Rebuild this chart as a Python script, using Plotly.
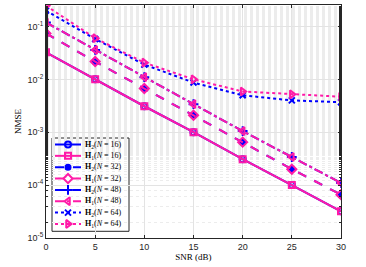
import plotly.graph_objects as go

snr = [0, 5, 10, 15, 20, 25, 30]
h2_n16 = [0.0325, 0.0100, 0.0031, 0.00100, 0.00031, 0.000100, 0.0000320]
h1_n16 = [0.0325, 0.0100, 0.0031, 0.00100, 0.00031, 0.000100, 0.0000320]
h2_n32 = [0.074, 0.0217, 0.0067, 0.0021, 0.00065, 0.000200, 0.0000660]
h1_n32 = [0.074, 0.0217, 0.0067, 0.0021, 0.00065, 0.000200, 0.0000660]
h2_n48 = [0.119, 0.036, 0.011, 0.0034, 0.00105, 0.00034, 0.000110]
h1_n48 = [0.119, 0.036, 0.011, 0.0034, 0.00105, 0.00034, 0.000110]
h2_n64 = [0.200, 0.058, 0.019, 0.0087, 0.0050, 0.0040, 0.0037]
h1_n64 = [0.247, 0.060, 0.0207, 0.0100, 0.0059, 0.0052, 0.0047]

BLUE = "#0000FF"
PINK = "#FF1AA8"

series = [
    ("<b>H</b><sub>2</sub>(<i>N</i> = 16)", h2_n16, BLUE, "solid", "circle-open", 6),
    ("<b>H</b><sub>1</sub>(<i>N</i> = 16)", h1_n16, PINK, "solid", "square-open", 6),
    ("<b>H</b><sub>2</sub>(<i>N</i> = 32)", h2_n32, BLUE, "dash", "circle", 5),
    ("<b>H</b><sub>1</sub>(<i>N</i> = 32)", h1_n32, PINK, "dash", "diamond-open", 7),
    ("<b>H</b><sub>2</sub>(<i>N</i> = 48)", h2_n48, BLUE, "dashdot", "cross-thin-open", 7),
    ("<b>H</b><sub>1</sub>(<i>N</i> = 48)", h1_n48, PINK, "dashdot", "triangle-left-open", 7),
    ("<b>H</b><sub>2</sub>(<i>N</i> = 64)", h2_n64, BLUE, "dot", "x-thin-open", 6),
    ("<b>H</b><sub>1</sub>(<i>N</i> = 64)", h1_n64, PINK, "dot", "triangle-right-open", 7),
]

W, H = 366, 267
L, R, T, B = 46, 25, 5, 29
PW, PH = W - L - R, H - T - B


def px(xp):
    return (xp - L) / PW


def py(yp):
    return (H - B - yp) / PH


fig = go.Figure()
for name, vals, col, dash, sym, ms in series:
    fig.add_trace(go.Scatter(
        x=snr, y=vals, name=name, mode="lines+markers", showlegend=False,
        line=dict(color=col, width=2, dash=dash),
        marker=dict(symbol=sym, size=ms, color=col, line=dict(color=col, width=2)),
    ))

# compact legend drawn on a hidden pixel-unit overlay axis
leg_x0, leg_x1 = 52, 129
leg_y0 = 138
row_h = 11.35
fig.add_shape(type="rect", xref="paper", yref="paper", x0=px(leg_x0), x1=px(leg_x1),
              y0=py(leg_y0), y1=py(leg_y0 + row_h * 8 + 2.5),
              line=dict(color="#262626", width=1), fillcolor="white", layer="between")
for i, (name, vals, col, dash, sym, ms) in enumerate(series):
    yc = leg_y0 + 6.5 + i * row_h
    fig.add_trace(go.Scatter(
        x=[55, 68, 81], y=[yc, yc, yc], mode="lines", xaxis="x2", yaxis="y2",
        showlegend=False, hoverinfo="skip",
        line=dict(color=col, width=2, dash=dash),
    ))
    fig.add_trace(go.Scatter(
        x=[68], y=[yc], mode="markers", xaxis="x2", yaxis="y2",
        showlegend=False, hoverinfo="skip",
        marker=dict(symbol=sym, size=ms, color=col, line=dict(color=col, width=2)),
    ))
    fig.add_annotation(x=px(83), y=py(yc), xref="paper", yref="paper", text=name, showarrow=False,
                       xanchor="left", yanchor="middle",
                       font=dict(family="Liberation Serif, serif", size=8, color="#000"))

fig.update_layout(
    width=W, height=H,
    margin=dict(l=L, r=R, t=T, b=B),
    paper_bgcolor="white", plot_bgcolor="white",
    font=dict(family="Liberation Sans, Arial", size=9, color="#262626"),
    showlegend=False,
    xaxis2=dict(overlaying="x", range=[L, W - R], visible=False, fixedrange=True),
    yaxis2=dict(overlaying="y", range=[H - B, T], visible=False, fixedrange=True),
    xaxis=dict(
        range=[0, 30], tickvals=[0, 5, 10, 15, 20, 25, 30],
        showgrid=True, gridcolor="#e3e3e3", gridwidth=1,
        showline=True, linecolor="#262626", linewidth=1, mirror="allticks",
        ticks="inside", ticklen=3, tickcolor="#262626",
        zeroline=False, automargin=False,
        tickfont=dict(size=9, color="#262626"),
        title=dict(text="SNR (dB)", font=dict(family="Liberation Serif, serif", size=9, color="#000"), standoff=1),
    ),
    yaxis=dict(
        type="log", range=[-5, -0.594],
        tickvals=[1e-5, 1e-4, 1e-3, 1e-2, 1e-1],
        ticktext=["10<sup>-5</sup>", "10<sup>-4</sup>", "10<sup>-3</sup>", "10<sup>-2</sup>", "10<sup>-1</sup>"],
        showgrid=True, gridcolor="#e3e3e3", gridwidth=1,
        minor=dict(showgrid=True, gridcolor="#ececec", griddash="dot", ticks="inside", ticklen=2, tickcolor="#262626"),
        showline=True, linecolor="#262626", linewidth=1, mirror="allticks",
        ticks="inside", ticklen=3, tickcolor="#262626",
        zeroline=False, automargin=False,
        tickfont=dict(size=9, color="#262626"),
        title=dict(text="NMSE", font=dict(family="Liberation Serif, serif", size=9, color="#000"), standoff=4),
    ),
)

fig.write_html("out.html", config={"displayModeBar": False, "staticPlot": True},
               post_script="document.body.style.margin='0';document.body.style.overflow='hidden';")
